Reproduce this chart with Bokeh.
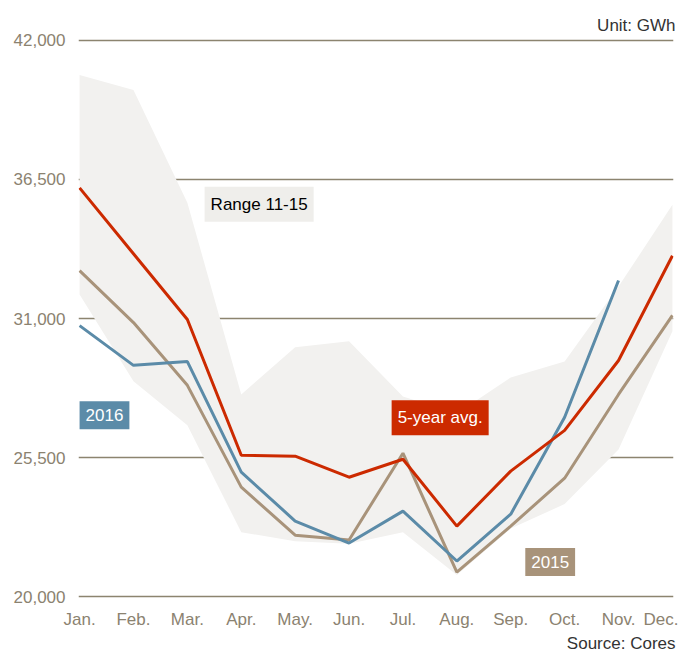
from bokeh.plotting import figure
from bokeh.models import Range1d, FixedTicker, Label, Title
from bokeh.embed import file_html
from bokeh.resources import INLINE

months = ["Jan.", "Feb.", "Mar.", "Apr.", "May.", "Jun.", "Jul.", "Aug.", "Sep.", "Oct.", "Nov.", "Dec."]
avg5 = [36160, 33560, 30960, 25600, 25560, 24730, 25440, 22800, 24970, 26580, 29340, 33480]
y2016 = [30720, 29150, 29300, 24930, 23000, 22130, 23390, 21420, 23270, 27100, 32500]
y2015 = [32890, 30840, 28360, 24340, 22440, 22250, 25680, 20980, 22800, 24690, 28000, 31120]
range_hi = [40620, 40030, 35570, 28000, 29860, 30100, 27920, 27250, 28670, 29300, 32260, 35490]
range_lo = [31950, 28520, 26780, 22560, 22200, 22100, 22560, 20870, 22700, 23670, 25830, 30500]
yticks = [20000, 25500, 31000, 36500, 42000]

FONT = "Liberation Sans"
GRID = "#8c846f"
TICK = "#8b8270"
RED = "#cc2a00"
BLUE = "#5b8ba8"
TAN = "#a8937a"
BAND = "#f2f1ef"

x_all = list(range(len(months)))

p = figure(width=678, height=652, output_backend="svg", toolbar_location=None,
           x_range=Range1d(-0.02, 11.02), y_range=Range1d(19900, 42100),
           min_border_left=78, min_border_right=5, min_border_top=37, min_border_bottom=52)
p.outline_line_color = None
p.background_fill_color = "white"
p.border_fill_color = "white"

p.xgrid.visible = False
p.ygrid.ticker = FixedTicker(ticks=yticks)
p.ygrid.grid_line_color = GRID
p.ygrid.grid_line_width = 1.6

p.yaxis.ticker = FixedTicker(ticks=yticks)
p.yaxis.major_label_overrides = {t: f"{t:,}" for t in yticks}
p.xaxis.ticker = FixedTicker(ticks=x_all)
p.xaxis.major_label_overrides = dict(enumerate(months))
for ax in (p.xaxis[0], p.yaxis[0]):
    ax.axis_line_color = None
    ax.major_tick_line_color = None
    ax.minor_tick_line_color = None
    ax.major_tick_out = 0
    ax.major_label_text_font = FONT
    ax.major_label_text_font_size = "17px"
    ax.major_label_text_color = TICK
p.yaxis.major_label_standoff = 13
p.xaxis.major_label_standoff = 10

p.varea(x=x_all, y1=range_lo, y2=range_hi, fill_color=BAND)
p.line(x_all, y2015, line_color=TAN, line_width=3)
p.line(x_all[:len(y2016)], y2016, line_color=BLUE, line_width=3)
p.line(x_all, avg5, line_color=RED, line_width=3)

def box(x, y, text, bg, color):
    p.add_layout(Label(x=x, y=y, text=text, text_font=FONT, text_font_size="17px",
                       text_color=color, background_fill_color=bg, padding=(6, 8),
                       text_align="left", text_baseline="bottom"))

box(2.32, 34824, "Range 11-15", "#efeeeb", "black")
box(0.0, 26622, "2016", BLUE, "white")
box(5.79, 26386, "5-year avg.", RED, "white")
box(8.27, 20826, "2015", TAN, "white")

p.add_layout(Title(text="Unit: GWh", align="right", offset=-2, standoff=6, text_font=FONT,
                   text_font_size="17px", text_color="#333333", text_font_style="normal"), "above")
p.add_layout(Title(text="Source: Cores", align="right", offset=-2, standoff=0, text_font=FONT,
                   text_font_size="17px", text_color="#333333", text_font_style="normal"), "below")

open("out.html", "w").write(file_html(p, INLINE))
